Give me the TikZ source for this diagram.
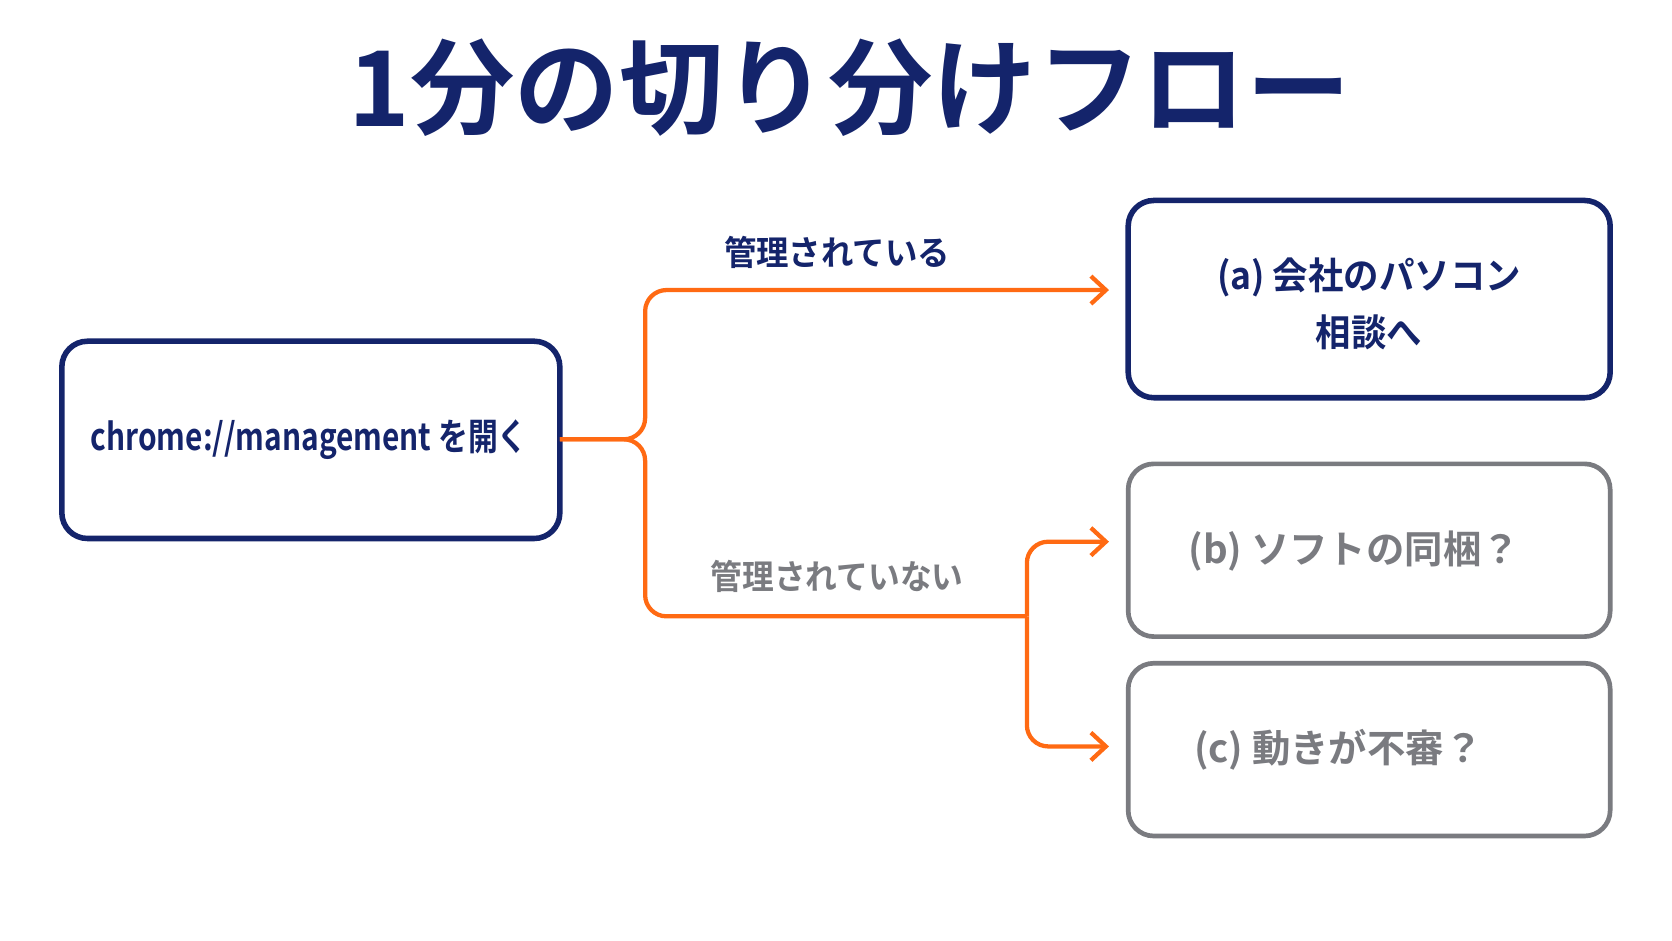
\documentclass[tikz,border=0pt]{standalone}
\usepackage{fontspec}
\setmainfont{Noto Sans CJK JP}[BoldFont={* Bold}]
\usetikzlibrary{arrows.meta}
\definecolor{navy}{HTML}{14246B}
\definecolor{org}{HTML}{FF6A13}
\definecolor{gry}{HTML}{7A7B80}
\begin{document}
\begin{tikzpicture}[x=0.5pt,y=-0.5pt,
 box/.style={draw=navy,line width=2.6pt,rounded corners=12pt,fill=white},
 gbox/.style={draw=gry,line width=2.2pt,rounded corners=12pt,fill=white},
 txt/.style={font=\fontsize{17.5}{27}\selectfont\bfseries,text=navy,align=center},
 gtxt/.style={font=\fontsize{18}{27}\selectfont\bfseries,text=gry,align=center},
 con/.style={draw=org,line width=2pt,rounded corners=10pt},
 arr/.style={con,-{Straight Barb[length=7pt,width=13pt,line width=2pt]}}]
\fill[white] (0,0) rectangle (1568,882);
\useasboundingbox (0,0) rectangle (1568,882);
\node[font=\fontsize{49}{56}\selectfont\bfseries,text=navy] (title) at (797,82) {1分の切り分けフロー};
\draw[box] (58,320) rectangle (525,505);
\node[txt] (start) at (290,412) {\scalebox{0.8}[1]{chrome://management を開く}};
\draw[box] (1058,188) rectangle (1510,373);
\node[txt] (a) at (1284,285) {\scalebox{0.95}[1]{(a) 会社のパソコン}\\\scalebox{0.95}[1]{相談へ}};
\draw[gbox] (1058,435) rectangle (1510,597);
\node[gtxt] (b) at (1270,517) {(b) ソフトの同梱？};
\draw[gbox] (1058,622) rectangle (1510,784);
\node[gtxt] (c) at (1255,703) {(c) 動きが不審？};
\coordinate (s) at (525,412);
\coordinate (m) at (963,578);
\draw[con] (s) -- (605,412) -- (605,578) -- (m);
\draw[arr] (s) -- (605,412) -- (605,272) -- (1040,272);
\draw[arr] (m) -- (963,508) -- (1040,508);
\draw[arr] (m) -- (963,700) -- (1040,700);
\node[font=\fontsize{16}{20}\selectfont\bfseries,text=navy] (l1) at (785,237) {\scalebox{0.95}[1]{管理されている}};
\node[font=\fontsize{16}{20}\selectfont\bfseries,text=gry] (l2) at (785,541) {\scalebox{0.93}[1]{管理されていない}};
\end{tikzpicture}
\end{document}
